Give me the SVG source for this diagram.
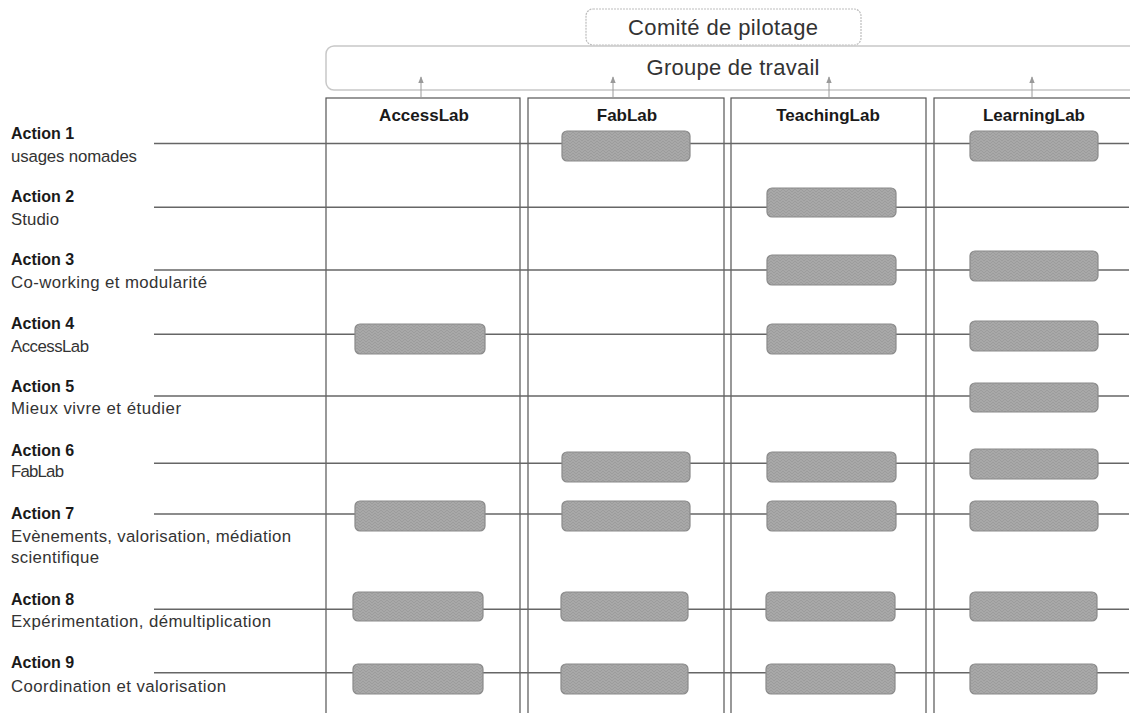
<svg xmlns="http://www.w3.org/2000/svg" width="1130" height="713" viewBox="0 0 1130 713">
  <style>
    .bg { fill: #ffffff; }
    .lbl { font-family: "Liberation Sans", Arial, sans-serif; font-size: 16px; font-weight: bold; fill: #1a1a1a; }
    .sub { font-family: "Liberation Sans", Arial, sans-serif; font-size: 16.8px; fill: #333333; }
    .hdr { font-family: "Liberation Sans", Arial, sans-serif; font-size: 17px; font-weight: bold; fill: #1a1a1a; text-anchor: middle; }
    .top { font-family: "Liberation Sans", Arial, sans-serif; font-size: 22px; fill: #333333; text-anchor: middle; }
    .col { fill: none; stroke: #555555; stroke-width: 1.2; }
    .row { stroke: #666666; stroke-width: 1.6; fill: none; }
    .pill { fill: url(#hatch); stroke: #8a8a8a; stroke-width: 1.2; }
    .arr { stroke: #9a9a9a; stroke-width: 1; fill: none; marker-end: url(#ah); }
  </style>
  <defs>
    <pattern id="hatch" width="6" height="6" patternUnits="userSpaceOnUse">
      <rect width="6" height="6" fill="#a8a8a8"/>
      <path d="M0,3 L3,0 L6,3 M0,6 L3,3 L6,6" stroke="#9c9c9c" stroke-width="1" fill="none"/>
    </pattern>
    <marker id="ah" viewBox="0 0 10 10" refX="9" refY="5" markerWidth="7" markerHeight="7" orient="auto" markerUnits="userSpaceOnUse">
      <path d="M0,1 L10,5 L0,9 Z" fill="#9a9a9a"/>
    </marker>
  </defs>
  <rect class="bg" x="0" y="0" width="1130" height="713"/>

  <g id="comite">
    <rect x="586" y="9" width="275" height="36" rx="7" fill="#ffffff" stroke="#bdbdbd" stroke-width="1.2" stroke-dasharray="2 1"/>
    <text class="top" x="723" y="35" textLength="190">Comité de pilotage</text>
  </g>
  <g id="groupe">
    <rect x="326" y="46" width="820" height="44" rx="8" fill="none" stroke="#c8c8c8" stroke-width="1.5"/>
    <text class="top" x="733" y="75" textLength="173">Groupe de travail</text>
  </g>

  <g id="columns">
    <g id="col-accesslab">
      <rect class="col" x="326" y="98" width="194" height="640"/>
      <text class="hdr" x="424" y="121">AccessLab</text>
    </g>
    <g id="col-fablab">
      <rect class="col" x="528" y="98" width="196" height="640"/>
      <text class="hdr" x="627" y="121">FabLab</text>
    </g>
    <g id="col-teachinglab">
      <rect class="col" x="731" y="98" width="195" height="640"/>
      <text class="hdr" x="828" y="121">TeachingLab</text>
    </g>
    <g id="col-learninglab">
      <rect class="col" x="934" y="98" width="210" height="640"/>
      <text class="hdr" x="1034" y="121">LearningLab</text>
    </g>
  </g>

  <g id="connectors">
    <line class="arr" x1="421" y1="98" x2="421" y2="77"/>
    <line class="arr" x1="613" y1="98" x2="613" y2="77"/>
    <line class="arr" x1="829" y1="98" x2="829" y2="77"/>
    <line class="arr" x1="1032" y1="98" x2="1032" y2="77"/>
    <line class="row" x1="154" y1="143.5" x2="1129" y2="143.5"/>
    <line class="row" x1="154" y1="207.3" x2="1129" y2="207.3"/>
    <line class="row" x1="154" y1="270" x2="1129" y2="270"/>
    <line class="row" x1="154" y1="334.3" x2="1129" y2="334.3"/>
    <line class="row" x1="154" y1="396" x2="1129" y2="396"/>
    <line class="row" x1="154" y1="463.3" x2="1129" y2="463.3"/>
    <line class="row" x1="154" y1="514" x2="1129" y2="514"/>
    <line class="row" x1="154" y1="609.3" x2="1129" y2="609.3"/>
    <line class="row" x1="154" y1="672.7" x2="1129" y2="672.7"/>
  </g>

  <g id="action1">
    <text class="lbl" x="11" y="139">Action 1</text>
    <text class="sub" x="11" y="161.7" textLength="126">usages nomades</text>
    <rect class="pill" x="562" y="131" width="128" height="30" rx="5"/>
    <rect class="pill" x="970" y="131" width="128" height="30" rx="5"/>
  </g>
  <g id="action2">
    <text class="lbl" x="11" y="202.3">Action 2</text>
    <text class="sub" x="11" y="225" textLength="48">Studio</text>
    <rect class="pill" x="767" y="188" width="129" height="29" rx="5"/>
  </g>
  <g id="action3">
    <text class="lbl" x="11" y="265">Action 3</text>
    <text class="sub" x="11" y="287.7" textLength="196">Co-working et modularité</text>
    <rect class="pill" x="767" y="255" width="129" height="30" rx="5"/>
    <rect class="pill" x="970" y="251" width="128" height="30" rx="5"/>
  </g>
  <g id="action4">
    <text class="lbl" x="11" y="328.7">Action 4</text>
    <text class="sub" x="11" y="351.7" textLength="78">AccessLab</text>
    <rect class="pill" x="355" y="324" width="130" height="30" rx="5"/>
    <rect class="pill" x="767" y="324" width="129" height="30" rx="5"/>
    <rect class="pill" x="970" y="321" width="128" height="30" rx="5"/>
  </g>
  <g id="action5">
    <text class="lbl" x="11" y="392.3">Action 5</text>
    <text class="sub" x="11" y="414" textLength="170">Mieux vivre et étudier</text>
    <rect class="pill" x="970" y="383" width="128" height="29" rx="5"/>
  </g>
  <g id="action6">
    <text class="lbl" x="11" y="455.7">Action 6</text>
    <text class="sub" x="11" y="476.7" textLength="53">FabLab</text>
    <rect class="pill" x="562" y="452" width="128" height="30" rx="5"/>
    <rect class="pill" x="767" y="452" width="129" height="30" rx="5"/>
    <rect class="pill" x="970" y="449" width="128" height="30" rx="5"/>
  </g>
  <g id="action7">
    <text class="lbl" x="11" y="519">Action 7</text>
    <text class="sub" x="11" y="541.7" textLength="280">Evènements, valorisation, médiation</text>
    <text class="sub" x="11" y="563.3" textLength="88">scientifique</text>
    <rect class="pill" x="355" y="501" width="130" height="30" rx="5"/>
    <rect class="pill" x="562" y="501" width="128" height="30" rx="5"/>
    <rect class="pill" x="767" y="501" width="129" height="30" rx="5"/>
    <rect class="pill" x="970" y="501" width="128" height="30" rx="5"/>
  </g>
  <g id="action8">
    <text class="lbl" x="11" y="605">Action 8</text>
    <text class="sub" x="11" y="626.7" textLength="260">Expérimentation, démultiplication</text>
    <rect class="pill" x="353" y="592" width="130" height="29" rx="5"/>
    <rect class="pill" x="561" y="592" width="127" height="29" rx="5"/>
    <rect class="pill" x="766" y="592" width="129" height="29" rx="5"/>
    <rect class="pill" x="970" y="592" width="127" height="29" rx="5"/>
  </g>
  <g id="action9">
    <text class="lbl" x="11" y="667.7">Action 9</text>
    <text class="sub" x="11" y="691.7" textLength="215">Coordination et valorisation</text>
    <rect class="pill" x="353" y="664" width="130" height="30" rx="5"/>
    <rect class="pill" x="561" y="664" width="127" height="30" rx="5"/>
    <rect class="pill" x="766" y="664" width="129" height="30" rx="5"/>
    <rect class="pill" x="970" y="664" width="127" height="30" rx="5"/>
  </g>
</svg>
